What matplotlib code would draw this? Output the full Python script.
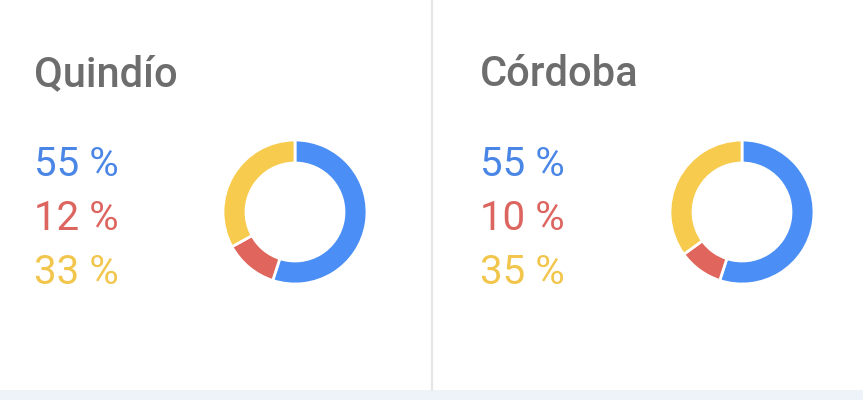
import matplotlib.pyplot as plt

# datos de cada departamento
departamentos = ['Quindío', 'Córdoba']
azul = [55, 55]
rojo = [12, 10]
amarillo = [33, 35]

colores_dona = ['#4a8ef6', '#e0655c', '#f7cb4d']
colores_texto = ['#4a86e6', '#dd6560', '#f2c64c']

W, H = 863, 400
fig = plt.figure(figsize=(W / 100, H / 100), dpi=100)
fig.patch.set_facecolor('white')

# fondo: separador vertical y franja inferior
fondo = fig.add_axes([0, 0, 1, 1])
fondo.set_xlim(0, W)
fondo.set_ylim(H, 0)
fondo.axis('off')
fondo.axvspan(0, W, ymin=0, ymax=10 / H, color='#eef3fa', lw=0)
fondo.plot([432, 432], [0, 390], color='#e6e6e6', lw=1.6)

paneles_x = [34, 480]
centros_x = [295, 742]
radio = 72
cy = 212

for i, nombre in enumerate(departamentos):
    x0 = paneles_x[i]
    fondo.text(x0, 86, nombre, fontsize=30, family='Roboto', fontweight='medium',
               color='#6d6d6d', va='baseline', ha='left')
    valores = [azul[i], rojo[i], amarillo[i]]
    for j, v in enumerate(valores):
        fondo.text(x0, 176 + 54 * j, f'{v} %', fontsize=29, family='Roboto',
                   color=colores_texto[j], va='baseline', ha='left')

    ax = fig.add_axes([(centros_x[i] - radio) / W, (H - cy - radio) / H,
                       2 * radio / W, 2 * radio / H])
    ax.pie(valores, colors=colores_dona, startangle=90, counterclock=False,
           wedgeprops=dict(width=23 / 72, edgecolor='white', linewidth=2))
    ax.set_xlim(-1, 1)
    ax.set_ylim(-1, 1)
    ax.set_aspect('equal')

fig.savefig('out.png', dpi=100)
